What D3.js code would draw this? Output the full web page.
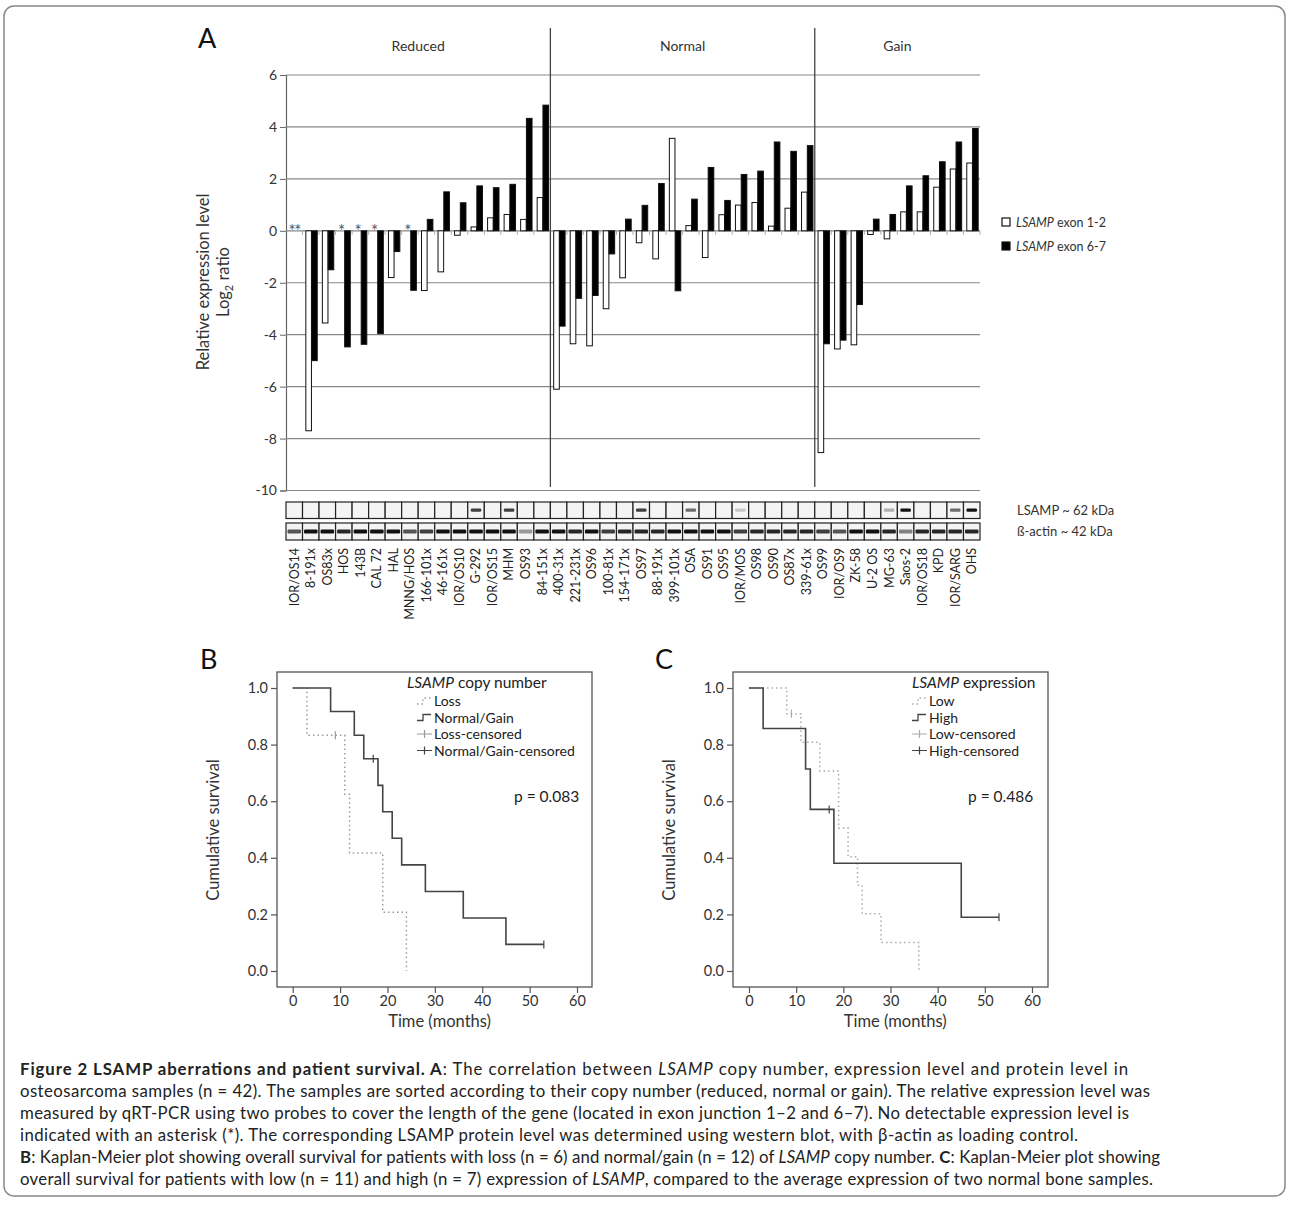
<!DOCTYPE html>
<html>
<head>
<meta charset="utf-8">
<script src="https://cdn.jsdelivr.net/npm/d3@7"></script>
<style>
  body { margin: 0; background: #fff; }
  svg { display: block; font-family: Lato, "Open Sans", sans-serif; }
</style>
</head>
<body>
<svg id="fig" width="1290" height="1205"></svg>
<script>
'use strict';

// ---- panel A data ----
const samples = ['IOR/OS14', '8-191x', 'OS83x', 'HOS', '143B', 'CAL 72', 'HAL', 'MNNG/HOS',
  '166-101x', '46-161x', 'IOR/OS10', 'G-292', 'IOR/OS15', 'MHM', 'OS93', '84-151x',
  '400-31x', '221-231x', 'OS96', '100-81x', '154-171x', 'OS97', '88-191x', '399-101x',
  'OSA', 'OS91', 'OS95', 'IOR/MOS', 'OS98', 'OS90', 'OS87x', '339-61x',
  'OS99', 'IOR/OS9', 'ZK-58', 'U-2 OS', 'MG-63', 'Saos-2', 'IOR/OS18', 'KPD', 'IOR/SARG', 'OHS'];
const groupNames = ['Reduced', 'Normal', 'Gain'];
const groupSizes = [16, 16, 10];
// null = no detectable expression (asterisk)
const exon12 = [null, -7.7, -3.55, null, null, null, -1.8, null, -2.3, -1.58, -0.17, 0.15, 0.5, 0.63, 0.44, 1.28,
  -6.1, -4.35, -4.43, -3.0, -1.81, -0.46, -1.08, 3.56, 0.2, -1.03, 0.62, 0.99, 1.09, 0.18, 0.87, 1.49,
  -8.54, -4.55, -4.39, -0.14, -0.31, 0.73, 0.73, 1.68, 2.38, 2.61];
const exon67 = [null, -5.0, -1.5, -4.47, -4.37, -3.96, -0.8, -2.29, 0.44, 1.5, 1.08, 1.73, 1.66, 1.79, 4.33, 4.84,
  -3.67, -2.6, -2.49, -0.89, 0.45, 0.98, 1.82, -2.31, 1.22, 2.44, 1.17, 2.17, 2.3, 3.42, 3.06, 3.28,
  -4.35, -4.21, -2.84, 0.45, 0.63, 1.73, 2.12, 2.66, 3.42, 3.94];
const yTicksA = [-10, -8, -6, -4, -2, 0, 2, 4, 6];
// western blot band strength (0 = no band)
const lsampBand = [0, 0, 0, 0, 0, 0, 0, 0, 0, 0, 0, 0.8, 0, 0.8, 0, 0,
  0, 0, 0, 0, 0, 0.8, 0, 0, 0.6, 0, 0, 0.2, 0, 0, 0, 0,
  0, 0, 0, 0, 0.3, 1, 0, 0, 0.6, 1];
const actinBand = [0.7, 1, 1, 0.9, 1, 1, 1, 0.7, 0.8, 1, 1, 1, 1, 1, 0.4, 1,
  1, 0.9, 1, 0.8, 0.9, 0.9, 0.9, 1, 1, 1, 1, 0.8, 0.9, 0.9, 0.9, 0.9,
  0.8, 0.7, 1, 1, 0.9, 0.5, 0.9, 0.9, 0.9, 0.9];

// ---- panel B / C data (Kaplan-Meier steps) ----
const lossTime = [0, 3, 11, 12, 19, 24];
const lossSurv = [1, 0.833, 0.625, 0.417, 0.208, 0];
const lossCens = [9];
const normalTime = [0, 8, 13, 15, 18, 19, 21, 23, 28, 36, 45, 53];
const normalSurv = [1, 0.917, 0.833, 0.75, 0.656, 0.5625, 0.469, 0.375, 0.281, 0.1875, 0.094, 0.094];
const normalCens = [17, 53];
const lowTime = [0, 8, 11, 15, 19, 21, 23, 24, 28, 36];
const lowSurv = [1, 0.909, 0.808, 0.707, 0.505, 0.404, 0.303, 0.202, 0.101, 0];
const lowCens = [9];
const highTime = [0, 3, 12, 13, 18, 45, 53];
const highSurv = [1, 0.857, 0.714, 0.571, 0.381, 0.19, 0.19];
const highCens = [17, 53];
const survTicks = [0, 0.2, 0.4, 0.6, 0.8, 1.0];
const timeTicks = [0, 10, 20, 30, 40, 50, 60];

const svg = d3.select('#fig');

// outer frame
svg.append('rect').attr('x', 4).attr('y', 6).attr('width', 1281).attr('height', 1190)
  .attr('rx', 10).attr('fill', 'none').attr('stroke', '#888').attr('stroke-width', 1.5);

// ================= panel A =================
const x = d3.scaleBand().domain(samples).range([286, 980]);
const y = d3.scaleLinear().domain([-10, 6]).range([490.5, 75]);
const bw = x.bandwidth();

svg.append('text').attr('x', 198).attr('y', 48).attr('font-size', 27).attr('fill', '#111').text('A');

// gridlines + y axis
const gA = svg.append('g').attr('transform', 'translate(286,0)')
  .call(d3.axisLeft(y).tickValues(yTicksA).tickSize(6).tickPadding(3).tickFormat(d => String(d)));
gA.select('.domain').attr('stroke', '#666').attr('stroke-width', 1.2);
gA.selectAll('.tick line').attr('stroke', '#666');
gA.selectAll('.tick text').attr('font-size', 14).attr('fill', '#333').attr('font-family', 'Lato, sans-serif');
svg.append('g').selectAll('line').data(yTicksA).join('line')
  .attr('x1', 286).attr('x2', 980).attr('y1', d => y(d)).attr('y2', d => y(d))
  .attr('stroke', '#888').attr('stroke-width', 1.2);

// small ticks under zero line at category borders
svg.append('g').selectAll('line').data(samples.slice(1).concat(['end'])).join('line')
  .attr('x1', d => d === 'end' ? 980 : x(d)).attr('x2', d => d === 'end' ? 980 : x(d))
  .attr('y1', y(0)).attr('y2', y(0) + 4).attr('stroke', '#999').attr('stroke-width', 0.8);

// group dividers and labels
let acc = 0;
const groupStart = groupSizes.map(n => { const s = acc; acc += n; return s; });
groupNames.forEach((g, i) => {
  const x0 = x(samples[groupStart[i]]);
  const last = samples[groupStart[i] + groupSizes[i] - 1];
  const x1 = x(last) + bw;
  svg.append('text').attr('x', (x0 + x1) / 2).attr('y', 51).attr('text-anchor', 'middle')
    .attr('font-size', 14).attr('fill', '#333').text(g);
  if (i > 0) {
    svg.append('line').attr('x1', x0).attr('x2', x0).attr('y1', 28).attr('y2', 487)
      .attr('stroke', '#444').attr('stroke-width', 1.3);
  }
});

// bars
const barW = bw * 0.34;
function barRect(sel, vals, off, fill) {
  sel.selectAll('rect').data(samples.map((s, i) => ({ s, v: vals[i] })).filter(d => d.v !== null)).join('rect')
    .attr('x', d => x(d.s) + off).attr('width', barW)
    .attr('y', d => y(Math.max(0, d.v))).attr('height', d => Math.abs(y(d.v) - y(0)))
    .attr('fill', fill).attr('stroke', '#111').attr('stroke-width', 1);
}
barRect(svg.append('g'), exon12, bw * 0.2, '#fff');
barRect(svg.append('g'), exon67, bw * 0.55, '#000');

// asterisks for undetectable expression
const stars = [];
samples.forEach((s, i) => {
  if (exon12[i] === null) stars.push(x(s) + bw * 0.2 + barW / 2);
  if (exon67[i] === null) stars.push(x(s) + bw * 0.55 + barW / 2);
});
svg.append('g').selectAll('text').data(stars).join('text')
  .attr('x', d => d).attr('y', y(0) + 6).attr('text-anchor', 'middle')
  .attr('font-size', 17).attr('fill', '#555').text('*');

// y axis title
const yt = svg.append('text').attr('transform', 'translate(209,282) rotate(-90)')
  .attr('text-anchor', 'middle').attr('font-size', 16.5).attr('fill', '#333');
yt.append('tspan').attr('x', 0).attr('dy', 0).text('Relative expression level');
const yt2 = yt.append('tspan').attr('x', 0).attr('dy', 20).text('Log');
yt2.append('tspan').attr('font-size', 11).attr('dy', 4).text('2');
yt2.append('tspan').attr('dy', -4).text(' ratio');

// legend A
const legA = [{ label: ' exon 1-2', fill: '#fff' }, { label: ' exon 6-7', fill: '#000' }];
legA.forEach((d, i) => {
  const ly = 222 + i * 24;
  svg.append('rect').attr('x', 1002).attr('y', ly - 4).attr('width', 8).attr('height', 8)
    .attr('fill', d.fill).attr('stroke', '#111').attr('stroke-width', 1.2);
  const t = svg.append('text').attr('x', 1016).attr('y', ly + 4.5).attr('font-size', 12.5).attr('fill', '#333');
  t.append('tspan').attr('font-style', 'italic').text('LSAMP');
  t.append('tspan').text(d.label);
});

// western blot strips
const blot = svg.append('g');
const rows = [{ y: 502, h: 16.5, band: lsampBand, by: 508.5, bh: 3.2 }, { y: 523, h: 17, band: actinBand, by: 529.5, bh: 4 }];
rows.forEach((r, ri) => {
  blot.append('g').selectAll('rect').data(samples).join('rect')
    .attr('x', d => x(d)).attr('y', r.y).attr('width', bw).attr('height', r.h)
    .attr('fill', '#f4f4f4').attr('stroke', '#222').attr('stroke-width', 1.2);
  blot.append('g').selectAll('rect').data(samples.map((s, i) => ({ s, v: r.band[i] })).filter(d => d.v > 0)).join('rect')
    .attr('x', d => x(d.s) + (ri === 0 ? bw * 0.18 : 1.5)).attr('y', r.by)
    .attr('width', ri === 0 ? bw * 0.64 : bw - 3).attr('height', r.bh)
    .attr('rx', 1.2).attr('fill', '#111').attr('opacity', d => d.v);
});
svg.append('text').attr('x', 1017).attr('y', 515).attr('font-size', 13).attr('fill', '#333').text('LSAMP ~ 62 kDa');
svg.append('text').attr('x', 1017).attr('y', 535.5).attr('font-size', 13).attr('fill', '#333').text('ß-actin ~ 42 kDa');

// sample names
svg.append('g').selectAll('text').data(samples).join('text')
  .attr('transform', d => `translate(${x(d) + bw / 2 + 4.4},548) rotate(-90)`)
  .attr('text-anchor', 'end').attr('font-size', 12.5).attr('fill', '#222').text(d => d);

// ================= panels B and C =================
function survAt(times, surv, t) {
  let s = surv[0];
  times.forEach((tt, i) => { if (tt <= t) s = surv[i]; });
  return s;
}

function drawKM(cfg) {
  const g = svg.append('g');
  const xs = d3.scaleLinear().domain([0, 60]).range(cfg.xr);
  const ys = d3.scaleLinear().domain([0, 1]).range([971, 688]);

  g.append('text').attr('x', cfg.letterX).attr('y', 669).attr('font-size', 27).attr('fill', '#111').text(cfg.letter);
  g.append('rect').attr('x', cfg.box[0]).attr('y', 672).attr('width', cfg.box[1] - cfg.box[0]).attr('height', 315)
    .attr('fill', 'none').attr('stroke', '#555').attr('stroke-width', 1.3);

  const ya = g.append('g').attr('transform', `translate(${cfg.box[0]},0)`)
    .call(d3.axisLeft(ys).tickValues(survTicks).tickSize(6).tickPadding(3).tickFormat(d3.format('.1f')));
  ya.select('.domain').remove();
  const xa = g.append('g').attr('transform', 'translate(0,987)')
    .call(d3.axisBottom(xs).tickValues(timeTicks).tickSize(6).tickPadding(3));
  xa.select('.domain').remove();
  [ya, xa].forEach(a => {
    a.selectAll('.tick line').attr('stroke', '#555').attr('stroke-width', 1.2);
    a.selectAll('.tick text').attr('font-size', 14.5).attr('fill', '#333').attr('font-family', 'Lato, sans-serif');
  });

  g.append('text').attr('x', xs(31)).attr('y', 1027).attr('text-anchor', 'middle')
    .attr('font-size', 16.5).attr('fill', '#333').text('Time (months)');
  g.append('text').attr('transform', `translate(${cfg.box[0] - 58},830) rotate(-90)`)
    .attr('text-anchor', 'middle').attr('font-size', 16.5).attr('fill', '#333').text('Cumulative survival');

  const line = d3.line().x(d => xs(d[0])).y(d => ys(d[1])).curve(d3.curveStepAfter);
  cfg.series.forEach(s => {
    const pts = s.time.map((t, i) => [t, s.surv[i]]);
    g.append('path').attr('d', line(pts)).attr('fill', 'none')
      .attr('stroke', s.color).attr('stroke-width', s.width).attr('stroke-dasharray', s.dash);
    g.append('g').selectAll('line').data(s.cens).join('line')
      .attr('x1', t => xs(t)).attr('x2', t => xs(t))
      .attr('y1', t => ys(survAt(s.time, s.surv, t)) - 4).attr('y2', t => ys(survAt(s.time, s.surv, t)) + 4)
      .attr('stroke', s.color).attr('stroke-width', 1.2);
  });

  // legend
  const lt = g.append('text').attr('x', cfg.legX).attr('y', 688).attr('font-size', 15.5).attr('fill', '#222');
  lt.append('tspan').attr('font-style', 'italic').text('LSAMP');
  lt.append('tspan').text(cfg.legTitle);
  const items = [];
  cfg.series.forEach(s => items.push({ s, kind: 'step', label: s.name }));
  cfg.series.forEach(s => items.push({ s, kind: 'cens', label: s.name + '-censored' }));
  items.forEach((it, i) => {
    const ly = 701 + i * 16.5;
    const sx = cfg.symX;
    if (it.kind === 'step') {
      g.append('path').attr('d', `M${sx},${ly + 3}h6v-6h8`).attr('fill', 'none')
        .attr('stroke', it.s.color).attr('stroke-width', 1.3).attr('stroke-dasharray', it.s.dash);
    } else {
      g.append('path').attr('d', `M${sx},${ly}h15M${sx + 7.5},${ly - 4}v8`).attr('fill', 'none')
        .attr('stroke', it.s.color).attr('stroke-width', 1.2);
    }
    g.append('text').attr('x', sx + 17).attr('y', ly + 5).attr('font-size', 14).attr('fill', '#222').text(it.label);
  });

  g.append('text').attr('x', cfg.pX).attr('y', 802).attr('font-size', 15.5).attr('fill', '#222').text(cfg.p);
}

drawKM({
  letter: 'B', letterX: 200, box: [277, 592], xr: [292.7, 577],
  legX: 407, symX: 417, legTitle: ' copy number', pX: 514, p: 'p = 0.083',
  series: [
    { name: 'Loss', time: lossTime, surv: lossSurv, cens: lossCens, color: '#999', width: 1.5, dash: '1.5,3' },
    { name: 'Normal/Gain', time: normalTime, surv: normalSurv, cens: normalCens, color: '#444', width: 1.6, dash: null }
  ]
});
drawKM({
  letter: 'C', letterX: 655, box: [733, 1048], xr: [749, 1032],
  legX: 912, symX: 912, legTitle: ' expression', pX: 968, p: 'p = 0.486',
  series: [
    { name: 'Low', time: lowTime, surv: lowSurv, cens: lowCens, color: '#aaa', width: 1.5, dash: '1.5,3' },
    { name: 'High', time: highTime, surv: highSurv, cens: highCens, color: '#444', width: 1.6, dash: null }
  ]
});

// ================= caption =================
const caption = [
  { w: 1108, parts: [['b', 'Figure 2 LSAMP aberrations and patient survival. A'], ['', ': The correlation between '], ['i', 'LSAMP'], ['', ' copy number, expression level and protein level in']] },
  { w: 1130, parts: [['', 'osteosarcoma samples (n = 42). The samples are sorted according to their copy number (reduced, normal or gain). The relative expression level was']] },
  { w: 1109, parts: [['', 'measured by qRT-PCR using two probes to cover the length of the gene (located in exon junction 1\u20132 and 6\u20137). No detectable expression level is']] },
  { w: 1058, parts: [['', 'indicated with an asterisk (*). The corresponding LSAMP protein level was determined using western blot, with \u03b2-actin as loading control.']] },
  { w: 1140, parts: [['b', 'B'], ['', ': Kaplan-Meier plot showing overall survival for patients with loss (n = 6) and normal/gain (n = 12) of '], ['i', 'LSAMP'], ['', ' copy number. '], ['b', 'C'], ['', ': Kaplan-Meier plot showing']] },
  { w: 1133, parts: [['', 'overall survival for patients with low (n = 11) and high (n = 7) expression of '], ['i', 'LSAMP'], ['', ', compared to the average expression of two normal bone samples.']] }
];
caption.forEach((ln, i) => {
  const t = svg.append('text').attr('x', 20).attr('y', 1075 + i * 22).attr('font-size', 16.8).attr('fill', '#222')
    .attr('textLength', ln.w).attr('lengthAdjust', 'spacing');
  ln.parts.forEach(p => {
    const ts = t.append('tspan').text(p[1]);
    if (p[0] === 'b') ts.attr('font-weight', 'bold');
    if (p[0] === 'i') ts.attr('font-style', 'italic');
  });
});
</script>
</body>
</html>
